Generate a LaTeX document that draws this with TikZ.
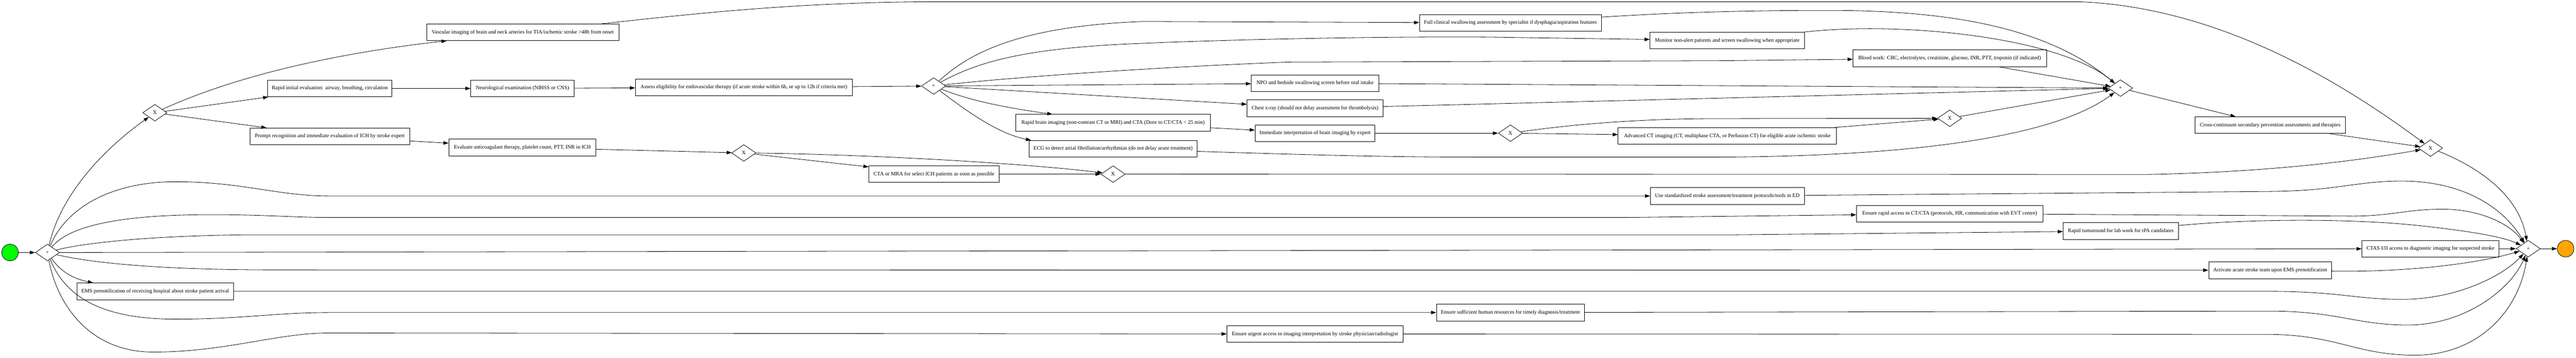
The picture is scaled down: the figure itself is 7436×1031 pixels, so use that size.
\documentclass[tikz,border=0pt]{standalone}
\usepackage{fontspec}
\setmainfont{Liberation Serif}
\usetikzlibrary{shapes.geometric,arrows.meta}
\tikzset{
  task/.style={draw, line width=1.2pt, rectangle, minimum height=48pt, inner xsep=8pt, inner ysep=2pt, font=\fontsize{15.4}{17}\selectfont, fill=white},
  gw/.style={draw, line width=1.2pt, diamond, minimum width=70pt, minimum height=48pt, inner sep=0pt, font=\fontsize{15.4}{17}\selectfont, fill=white},
  evstart/.style={draw, line width=1.2pt, circle, minimum size=48pt, inner sep=0pt, fill={rgb,255:red,0;green,255;blue,0}},
  evend/.style={draw, line width=1.2pt, circle, minimum size=48pt, inner sep=0pt, fill={rgb,255:red,255;green,165;blue,0}},
  flow/.style={line width=1.2pt, -{Triangle[length=15pt,width=10pt]}}
}
\begin{document}
\begin{tikzpicture}[x=1pt,y=-1pt]
\fill[white] (0,0) rectangle (7436,1031);
\useasboundingbox (0,0) rectangle (7436,1031);

% events and gateways
\node[evstart] (start) at (29,728) {};
\node[gw] (p1) at (137,728) {+};
\node[gw] (x1) at (447,325) {X};
\node[gw] (x2) at (2147,441) {X};
\node[gw] (p2) at (2695,248) {+};
\node[gw] (x3) at (3213,502) {X};
\node[gw] (x4) at (4360,384) {X};
\node[gw] (x5) at (5628,341) {X};
\node[gw] (p3) at (6121,254) {+};
\node[gw] (x6) at (7016,427) {X};
\node[gw] (p4) at (7298,717) {+};
\node[evend] (end) at (7406,717) {};

% tasks
\node[task, minimum width=555pt] (vasc) at (1509,93) {Vascular imaging of brain and neck arteries for TIA/ischemic stroke >48h from onset};
\node[task, minimum width=358pt] (rapid) at (952,255) {Rapid initial evaluation: airway, breathing, circulation};
\node[task, minimum width=461pt] (prompt) at (952,393) {Prompt recognition and immediate evaluation of ICH by stroke expert};
\node[task, minimum width=453pt] (ems) at (448,840) {EMS prenotification of receiving hospital about stroke patient arrival};
\node[task, minimum width=298pt] (neuro) at (1508,255) {Neurological examination (NIHSS or CNS)};
\node[task, minimum width=626pt] (assess) at (2147,252) {Assess eligibility for endovascular therapy (if acute stroke within 6h, or up to 12h if criteria met)};
\node[task, minimum width=425pt] (evalanti) at (1508,425) {Evaluate anticoagulant therapy, platelet count, PTT, INR in ICH};
\node[task, minimum width=376pt] (cta) at (2696,502) {CTA or MRA for select ICH patients as soon as possible};
\node[task, minimum width=562pt] (rbi) at (3213,354) {Rapid brain imaging (non-contrast CT or MRI) and CTA (Door to CT/CTA < 25 min)};
\node[task, minimum width=484pt] (ecg) at (3213,429) {ECG to detect atrial fibrillation/arrhythmias (do not delay acute treatment)};
\node[task, minimum width=368pt] (npo) at (3796,240) {NPO and bedside swallowing screen before oral intake};
\node[task, minimum width=392pt] (cxr) at (3796,312) {Chest x-ray (should not delay assessment for thrombolysis)};
\node[task, minimum width=346pt] (imm) at (3796,384) {Immediate interpretation of brain imaging by expert};
\node[task, minimum width=508pt] (urgent) at (3796,963) {Ensure urgent access to imaging interpretation by stroke physician/radiologist};
\node[task, minimum width=525pt] (swallow) at (4360,66) {Full clinical swallowing assessment by specialist if dysphagia/aspiration features};
\node[task, minimum width=446pt] (monitor) at (4986,117) {Monitor non-alert patients and screen swallowing when appropriate};
\node[task, minimum width=630pt] (adv) at (4986,392) {Advanced CT imaging (CT, multiphase CTA, or Perfusion CT) for eligible acute ischemic stroke};
\node[task, minimum width=444pt] (stdz) at (4986,565) {Use standardized stroke assessment/treatment protocols/tools in ED};
\node[task, minimum width=427pt] (hr) at (4360,901) {Ensure sufficient human resources for timely diagnosis/treatment};
\node[task, minimum width=558pt] (blood) at (5628,168) {Blood work: CBC, electrolytes, creatinine, glucose, INR, PTT, troponin (if indicated)};
\node[task, minimum width=538pt] (rct) at (5628,616) {Ensure rapid access to CT/CTA (protocols, HR, communication with EVT centre)};
\node[task, minimum width=333pt] (lab) at (6122,666) {Rapid turnaround for lab work for tPA candidates};
\node[task, minimum width=434pt] (cross) at (6553,361) {Cross-continuum secondary prevention assessments and therapies};
\node[task, minimum width=396pt] (ctas) at (7016,717) {CTAS I/II access to diagnostic imaging for suspected stroke};
\node[task, minimum width=355pt] (act) at (6553,779) {Activate acute stroke team upon EMS prenotification};

% flows
\draw[flow] (start) -- (p1);
\draw[flow] (p1) .. controls (175,560) and (300,430) .. (x1);
\draw[flow] (x1) .. controls (700,210) and (1000,150) .. (vasc);
\draw[flow] (x1) -- (rapid);
\draw[flow] (x1) -- (prompt);
\draw[flow] (rapid) -- (neuro);
\draw[flow] (neuro) -- (assess);
\draw[flow] (assess) -- (p2);
\draw[flow] (prompt) -- (evalanti);
\draw[flow] (evalanti) -- (x2);
\draw[flow] (x2) .. controls (2500,445) and (2950,470) .. (x3);
\draw[flow] (x2) -- (cta);
\draw[flow] (cta) -- (x3);

\draw[flow] (p2) .. controls (2800,150) and (2950,75) .. (3300,62) -- (swallow);
\draw[flow] (p2) .. controls (2820,180) and (2950,140) .. (3271,126) .. controls (3600,112) and (4000,105) .. (4300,107) -- (monitor);
\draw[flow] (p2) .. controls (2900,225) and (3300,195) .. (3720,179) -- (4960,175) -- (blood);
\draw[flow] (p2) -- (npo);
\draw[flow] (p2) -- (cxr);
\draw[flow] (p2) .. controls (2800,290) and (2900,310) .. (rbi);
\draw[flow] (p2) .. controls (2790,320) and (2880,385) .. ([xshift=6pt]ecg.north west);
\draw[flow] (rbi) -- (imm);
\draw[flow] (imm) -- (x4);
\draw[flow] (x4) -- (adv);
\draw[flow] (x4) .. controls (4600,350) and (4800,342) .. (4960,342) -- (x5);
\draw[flow] (adv) -- (x5);
\draw[flow] (x5) -- (p3);

\draw[flow] (swallow) .. controls (4800,38) and (5000,30) .. (5276,30) .. controls (5600,30) and (5900,70) .. (p3);
\draw[flow] (monitor) .. controls (5500,60) and (5950,110) .. (p3);
\draw[flow] (blood) -- (p3);
\draw[flow] (npo) -- (p3);
\draw[flow] (cxr) -- (p3);
\draw[flow] (ecg) .. controls (3800,447) and (4000,453) .. (4273,453) -- (4960,453) .. controls (5600,450) and (5950,380) .. (p3);
\draw[flow] (p3) -- (cross);
\draw[flow] (cross) -- (x6);
\draw[flow] (vasc) .. controls (2000,40) and (2300,6) .. (2700,5) -- (6000,5) .. controls (6400,20) and (6750,230) .. (x6);
\draw[flow] (x3) -- (6200,503) .. controls (6600,495) and (6850,455) .. (x6);
\draw[flow] (x6) .. controls (7150,480) and (7270,560) .. (p4);

\draw[flow] (p1) .. controls (190,600) and (320,524) .. (506,524) .. controls (700,524) and (800,565) .. (950,565) -- (stdz);
\draw[flow] (p1) .. controls (200,650) and (350,620) .. (593,619) .. controls (750,618) and (850,627) .. (948,627) -- (4700,627) -- (rct);
\draw[flow] (p1) .. controls (220,705) and (400,680) .. (711,677) -- (5000,677) -- (lab);
\draw[flow] (p1) -- (ctas);
\draw[flow] (p1) .. controls (230,750) and (400,778) .. (790,778) -- (act);
\draw[flow] (p1) .. controls (180,790) and (220,805) .. ([xshift=48pt]ems.north west);
\draw[flow] (p1) .. controls (190,860) and (300,920) .. (506,920) .. controls (700,920) and (800,901) .. (948,901) -- (hr);
\draw[flow] (p1) .. controls (165,880) and (260,1015) .. (442,1015) .. controls (650,1015) and (800,960) .. (948,960) -- (urgent);

\draw[flow] (stdz) -- (6550,552) .. controls (6750,550) and (6800,522) .. (6933,522) .. controls (7100,522) and (7220,590) .. (p4);
\draw[flow] (rct) -- (6791,623) .. controls (6900,623) and (6950,603) .. (7051,603) .. controls (7150,603) and (7240,640) .. (p4);
\draw[flow] (lab) .. controls (6500,630) and (6800,630) .. (6988,651) .. controls (7100,663) and (7220,680) .. (p4);
\draw[flow] (ctas) -- (p4);
\draw[flow] (act) .. controls (6950,785) and (7150,760) .. (p4);
\draw[flow] (ems) -- (6550,840) .. controls (6750,840) and (6800,863) .. (6933,863) .. controls (7100,863) and (7230,790) .. (p4);
\draw[flow] (hr) -- (6550,897) .. controls (6750,897) and (6800,937) .. (6950,937) .. controls (7120,937) and (7250,830) .. (p4);
\draw[flow] (urgent) -- (6550,964) .. controls (6750,966) and (6800,1024) .. (6972,1024) .. controls (7150,1024) and (7270,900) .. (p4);
\draw[flow] (p4) -- (end);
\end{tikzpicture}
\end{document}
